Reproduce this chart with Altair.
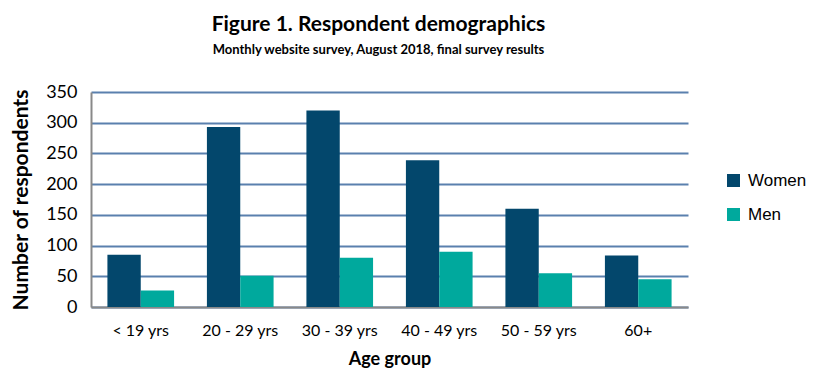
import altair as alt
import pandas as pd

age_groups = ["< 19 yrs", "20 - 29 yrs", "30 - 39 yrs", "40 - 49 yrs", "50 - 59 yrs", "60+"]
women = [85, 293, 320, 239, 160, 84]
men = [27, 51, 80, 90, 55, 45]
series = ["Women", "Men"]
colors = ["#03476C", "#00A99D"]

rows = []
for i, g in enumerate(age_groups):
    rows.append({"age": g, "sex": "Women", "n": women[i]})
    rows.append({"age": g, "sex": "Men", "n": men[i]})
df = pd.DataFrame(rows)

chart = alt.Chart(df).mark_bar().encode(
    x=alt.X("age:N", sort=age_groups,
            scale=alt.Scale(paddingInner=0.33, paddingOuter=0.165),
            axis=alt.Axis(title="Age group", labelAngle=0, ticks=False,
                          labelFont="Lato", labelFontSize=16, labelColor="#000",
                          labelPadding=15, titleFont="Lato", titleFontSize=18,
                          titleFontWeight="bold", titleColor="#000", titlePadding=12,
                          domainColor="#898989", domainWidth=2, grid=False)),
    xOffset=alt.XOffset("sex:N", sort=series),
    y=alt.Y("n:Q", scale=alt.Scale(domain=[0, 350], nice=False),
            axis=alt.Axis(title="Number of respondents", values=list(range(0, 351, 50)),
                          ticks=False, labelFont="Lato", labelFontSize=18, labelColor="#000",
                          labelPadding=14, titleFont="Lato", titleFontSize=21,
                          titleFontWeight="bold", titleColor="#000", titlePadding=14,
                          domainColor="#898989", domainWidth=2,
                          gridColor="#5A80AE", gridWidth=2, gridOpacity=1)),
    color=alt.Color("sex:N", sort=series,
                    scale=alt.Scale(domain=series, range=colors),
                    legend=alt.Legend(title=None, orient="none", legendX=634, legendY=80,
                                      symbolType="square", symbolSize=170,
                                      symbolStrokeWidth=0, labelFont="Liberation Sans",
                                      labelFontSize=17, labelColor="#000",
                                      rowPadding=16, labelOffset=6)),
).properties(
    width=597, height=215,
    autosize=alt.AutoSizeParams(type="none"),
    padding={"left": 83, "top": 84, "right": 124, "bottom": 70},
    title=alt.Title("Figure 1. Respondent demographics",
                    subtitle="Monthly website survey, August 2018, final survey results",
                    font="Lato", fontSize=21, fontWeight="bold", color="#000",
                    subtitleFont="Lato", subtitleFontSize=13, subtitleFontWeight="bold",
                    subtitleColor="#000", subtitlePadding=9, anchor="middle",
                    frame="group", dx=-11, offset=26),
).configure_view(stroke=None)

chart.save("out.html", embed_options={"renderer": "svg", "actions": False})
